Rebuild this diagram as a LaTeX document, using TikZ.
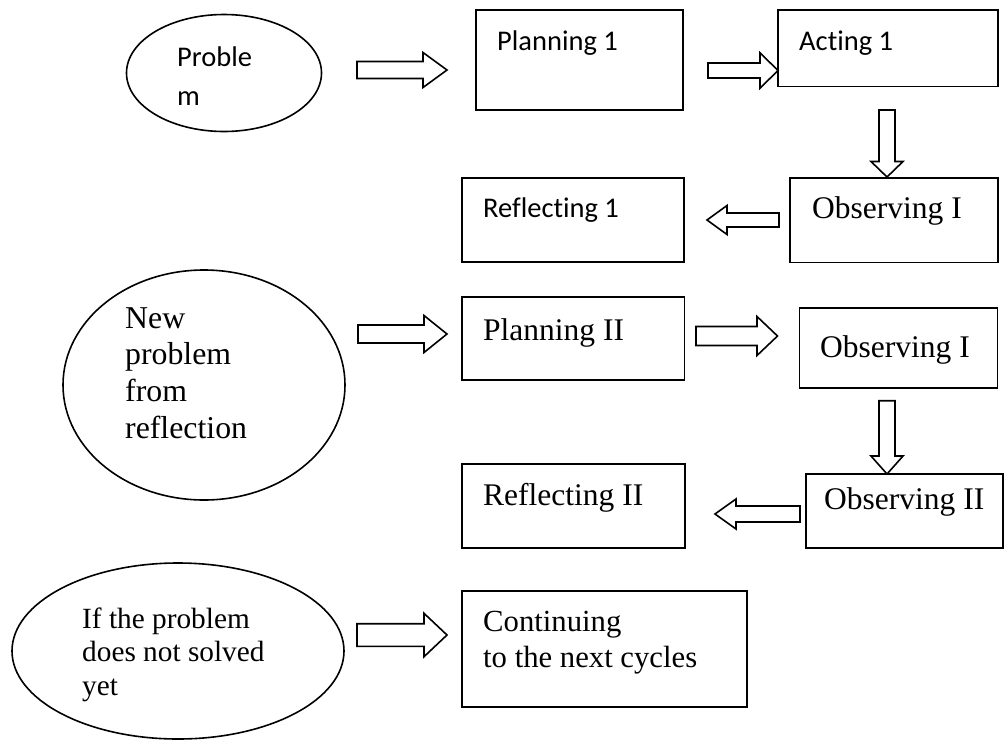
\documentclass[tikz,border=0pt]{standalone}
\usepackage{fontspec}
\setmainfont[Ligatures=NoCommon]{Liberation Serif}
\newfontfamily\calfont[Ligatures=NoCommon]{Carlito}
\usetikzlibrary{shapes.geometric,calc}
\tikzset{
  box/.style={draw, line width=1.6pt, rectangle, inner sep=0pt},
  oval/.style={draw, line width=1.6pt, ellipse, inner sep=0pt},
  blockarr/.style={draw, line width=1.6pt, line join=miter, fill=white},
  caltxt/.style={anchor=base west, inner sep=0pt, font=\calfont\fontsize{28.5}{38.3}\selectfont},
  tmstxt/.style={anchor=base west, inner sep=0pt, font=\fontsize{31.5}{36.7}\selectfont}
}
% #1 start, #2 tip, #3 head offset from tip (signed), #4 shaft half width, #5 head half width
\newcommand{\HArrow}[5]{\draw[blockarr] ($(#1)+(0,-#4)$) -- ($(#2)+(#3,-#4)$) -- ($(#2)+(#3,-#5)$) -- (#2) -- ($(#2)+(#3,#5)$) -- ($(#2)+(#3,#4)$) -- ($(#1)+(0,#4)$) -- cycle;}
\newcommand{\VArrow}[5]{\draw[blockarr] ($(#1)+(-#4,0)$) -- ($(#2)+(-#4,#3)$) -- ($(#2)+(-#5,#3)$) -- (#2) -- ($(#2)+(#5,#3)$) -- ($(#2)+(#4,#3)$) -- ($(#1)+(#4,0)$) -- cycle;}
\begin{document}
\begin{tikzpicture}[x=1pt,y=-1pt]
\useasboundingbox[fill=white] (0,0) rectangle (1005,740);

% ellipses
\node[oval, minimum width=195pt, minimum height=117pt] (prob) at (224,73) {};
\node[oval, minimum width=282pt, minimum height=230pt] (newp) at (204,385) {};
\node[oval, minimum width=332pt, minimum height=176pt] (ifp) at (178,651) {};

% boxes
\node[box, minimum width=207pt, minimum height=100pt] (plan1) at (579.5,60) {};
\node[box, minimum width=220pt, minimum height=76.7pt] (act1) at (888,48.3) {};
\node[box, minimum width=208pt, minimum height=84.7pt] (obs1) at (894,220.3) {};
\node[box, minimum width=222pt, minimum height=84pt] (ref1) at (573,220) {};
\node[box, minimum width=222.6pt, minimum height=83pt] (plan2) at (573.3,338.5) {};
\node[box, minimum width=198pt, minimum height=80pt] (obs1b) at (898.5,348) {};
\node[box, minimum width=197pt, minimum height=74pt] (obs2) at (904.5,511) {};
\node[box, minimum width=223pt, minimum height=84pt] (ref2) at (573.5,506) {};
\node[box, minimum width=285pt, minimum height=116pt] (cont) at (604.5,649) {};

% texts
\node[caltxt] (tprob) at (177,66.7) {\vtop{\hbox{Proble}\hbox{m}}};
\node[caltxt] (tplan1) at (497,50.5) {Planning 1};
\node[caltxt] (tact1) at (799,50) {Acting 1};
\node[caltxt] (tref1) at (483,217) {Reflecting 1};
\node[tmstxt] (tobs1) at (812,218) {Observing I};
\node[tmstxt, font=\fontsize{31.8}{36.7}\selectfont] (tnewp) at (125,328) {\vtop{\hbox{New}\hbox{problem}\hbox{from}\hbox{reflection}}};
\node[tmstxt] (tplan2) at (483,340) {Planning II};
\node[tmstxt] (tobs1b) at (820,357) {Observing I};
\node[tmstxt] (tobs2) at (824,509) {Observing II};
\node[tmstxt] (tref2) at (483,505) {Reflecting II};
\node[tmstxt, font=\fontsize{29.3}{33.5}\selectfont] (tifp) at (82,628) {\vtop{\hbox{If the problem}\hbox{does not solved}\hbox{yet}}};
\node[tmstxt, font=\fontsize{30.7}{36.3}\selectfont] (tcont) at (483,631) {\vtop{\hbox{Continuing}\hbox{to the next cycles}}};

% arrow end points
\coordinate (a1s) at (357,70);   \coordinate (a1t) at (447,70);
\coordinate (a2s) at (708,70.5); \coordinate (a2t) at (778,70.5);
\coordinate (a3s) at (887,110);  \coordinate (a3t) at (887,177);
\coordinate (a4s) at (779,220);  \coordinate (a4t) at (707,220);
\coordinate (a5s) at (358,334);  \coordinate (a5t) at (447,334);
\coordinate (a6s) at (696,336);  \coordinate (a6t) at (777.5,336);
\coordinate (a7s) at (887,400.7);\coordinate (a7t) at (887,474);
\coordinate (a8s) at (800,514);  \coordinate (a8t) at (715,514);
\coordinate (a9s) at (357,635);  \coordinate (a9t) at (447,635);

% block arrows: prob -> plan1 -> act1 -> obs1 -> ref1 ; newp -> plan2 -> obs1b -> obs2 -> ref2 ; ifp -> cont
\HArrow{a1s}{a1t}{-24}{8.5}{17.5}
\HArrow{a2s}{a2t}{-18}{7.5}{17.7}
\VArrow{a3s}{a3t}{-15.5}{8}{16}
\HArrow{a4s}{a4t}{20}{7}{14.5}
\HArrow{a5s}{a5t}{-23}{9}{18.5}
\HArrow{a6s}{a6t}{-20.5}{9.5}{19.5}
\VArrow{a7s}{a7t}{-18}{8}{16}
\HArrow{a8s}{a8t}{21}{8}{15}
\HArrow{a9s}{a9t}{-23}{11.3}{21.7}
\end{tikzpicture}
\end{document}
